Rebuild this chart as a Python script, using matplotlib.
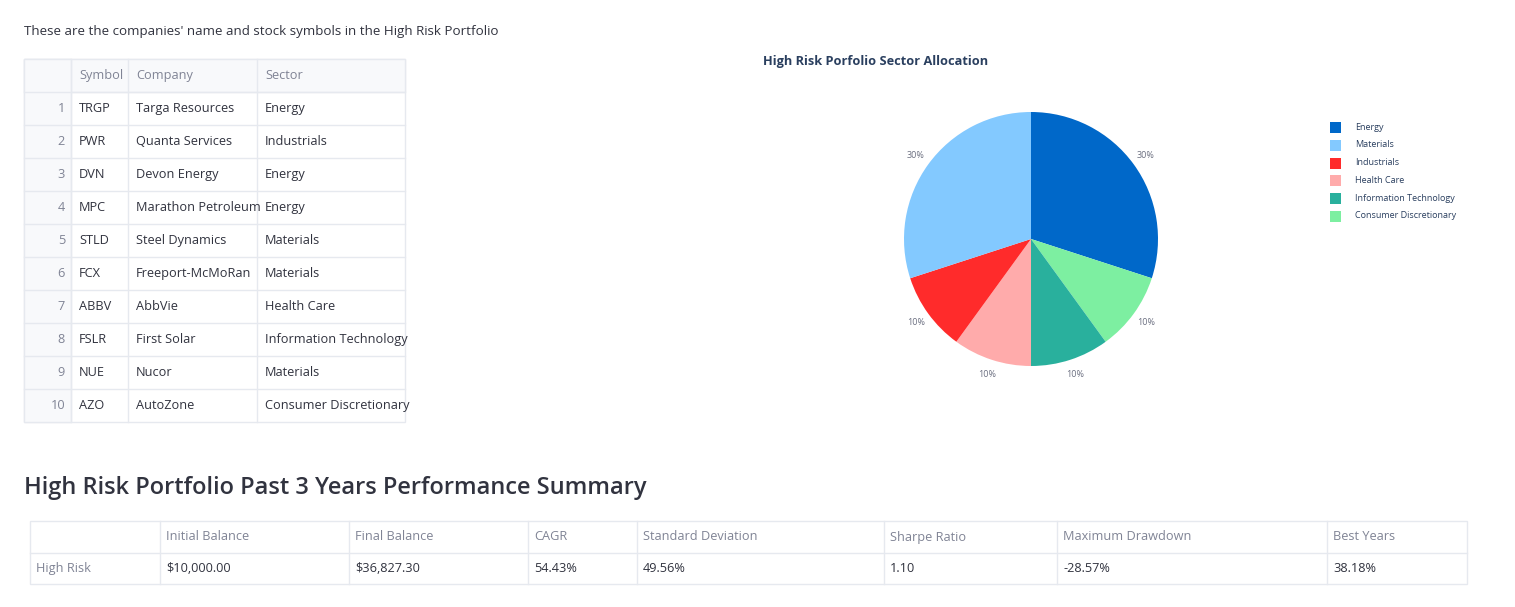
import matplotlib
matplotlib.use('Agg')
import matplotlib.pyplot as plt
from matplotlib.patches import Rectangle

plt.rcParams['font.family'] = ['Open Sans', 'DejaVu Sans']

# holdings table
symbols = ['TRGP', 'PWR', 'DVN', 'MPC', 'STLD', 'FCX', 'ABBV', 'FSLR', 'NUE', 'AZO']
companies = ['Targa Resources', 'Quanta Services', 'Devon Energy', 'Marathon Petroleum',
             'Steel Dynamics', 'Freeport-McMoRan', 'AbbVie', 'First Solar', 'Nucor', 'AutoZone']
sectors = ['Energy', 'Industrials', 'Energy', 'Energy', 'Materials', 'Materials',
           'Health Care', 'Information Technology', 'Materials', 'Consumer Discretionary']

# pie (clockwise from 12 o'clock)
pie_labels = ['Energy', 'Consumer Discretionary', 'Information Technology',
              'Health Care', 'Industrials', 'Materials']
pie_values = [30, 10, 10, 10, 10, 30]
pie_colors = ['#0068c9', '#7defa1', '#29b09d', '#ffabab', '#ff2b2b', '#83c9ff']
legend_order = ['Energy', 'Materials', 'Industrials', 'Health Care',
                'Information Technology', 'Consumer Discretionary']

# performance summary
perf_cols = ['', 'Initial Balance', 'Final Balance', 'CAGR', 'Standard Deviation',
             'Sharpe Ratio', 'Maximum Drawdown', 'Best Years']
perf_row = ['High Risk', '$10,000.00', '$36,827.30', '54.43%', '49.56%',
            '1.10', '-28.57%', '38.18%']

W, H = 1515, 607
fig = plt.figure(figsize=(W / 100, H / 100), dpi=100)
ax = fig.add_axes([0, 0, 1, 1])
ax.set_xlim(0, W)
ax.set_ylim(H, 0)
ax.axis('off')

txt = '#31333f'
grey = '#808495'
line = '#e6e9ef'
fs = 9.2

ax.text(24, 31, "These are the companies' name and stock symbols in the High Risk Portfolio",
        fontsize=9.6, color=txt, va='center')

# holdings table grid
xs = [24, 71, 128, 257, 405]
y0, rh = 59, 33
nrows = len(symbols) + 1
ax.add_patch(Rectangle((xs[0], y0), xs[-1] - xs[0], rh * nrows, fill=False,
                       edgecolor=line, lw=1))
ax.add_patch(Rectangle((xs[0], y0), xs[-1] - xs[0], rh, facecolor='#f8f9fb',
                       edgecolor=line, lw=1))
ax.add_patch(Rectangle((xs[0], y0), xs[1] - xs[0], rh * nrows, facecolor='#f8f9fb',
                       edgecolor=line, lw=1))
for i in range(1, nrows):
    ax.plot([xs[0], xs[-1]], [y0 + i * rh] * 2, color=line, lw=1)
for x in xs[1:-1]:
    ax.plot([x, x], [y0, y0 + rh * nrows], color=line, lw=1)
for j, h in enumerate(['Symbol', 'Company', 'Sector']):
    ax.text(xs[j + 1] + 8, y0 + rh / 2, h, fontsize=fs, color=grey, va='center')
for i in range(len(symbols)):
    yc = y0 + (i + 1.5) * rh
    ax.text(xs[1] - 6, yc, str(i + 1), fontsize=fs, color=grey, va='center', ha='right')
    for j, v in enumerate([symbols[i], companies[i], sectors[i]]):
        ax.text(xs[j + 1] + 8, yc, v, fontsize=fs, color=txt, va='center')

# performance table
ax.text(24, 488, 'High Risk Portfolio Past 3 Years Performance Summary', fontsize=17,
        color=txt, va='center', fontweight='semibold')
pxs = [30, 160, 349, 528, 637, 884, 1057, 1327, 1467]
py = [521, 553, 584]
ax.add_patch(Rectangle((pxs[0], py[0]), pxs[-1] - pxs[0], py[2] - py[0], fill=False,
                       edgecolor=line, lw=1))
ax.plot([pxs[0], pxs[-1]], [py[1]] * 2, color=line, lw=1)
for x in pxs[1:-1]:
    ax.plot([x, x], [py[0], py[2]], color=line, lw=1)
for j in range(len(perf_cols)):
    ax.text(pxs[j] + 6, (py[0] + py[1]) / 2, perf_cols[j], fontsize=fs, color=grey, va='center')
    ax.text(pxs[j] + 6, (py[1] + py[2]) / 2, perf_row[j], fontsize=fs,
            color=grey if j == 0 else txt, va='center')

# pie chart
r = 127
cx, cy = 1031, 239
pax = fig.add_axes([(cx - r) / W, 1 - (cy + r) / H, 2 * r / W, 2 * r / H])
wedges, _, autotexts = pax.pie(pie_values, colors=pie_colors, startangle=90, counterclock=False,
                               autopct='%d%%', pctdistance=1.12,
                               textprops={'fontsize': 6.5, 'color': '#6b6f80'})
pax.set_xlim(-1, 1)
pax.set_ylim(-1, 1)
ax.text(876, 61, 'High Risk Porfolio Sector Allocation', fontsize=9.2, fontweight='bold',
        color='#2a3f5f', ha='center', va='center')

# legend
for k, name in enumerate(legend_order):
    yy = 127 + k * 17.8
    c = pie_colors[pie_labels.index(name)]
    ax.add_patch(Rectangle((1330, yy - 5), 11, 11, facecolor=c, edgecolor='none'))
    ax.text(1355, yy, name, fontsize=6.5, color='#2a3f5f', va='center')

fig.savefig('out.png', dpi=100)
